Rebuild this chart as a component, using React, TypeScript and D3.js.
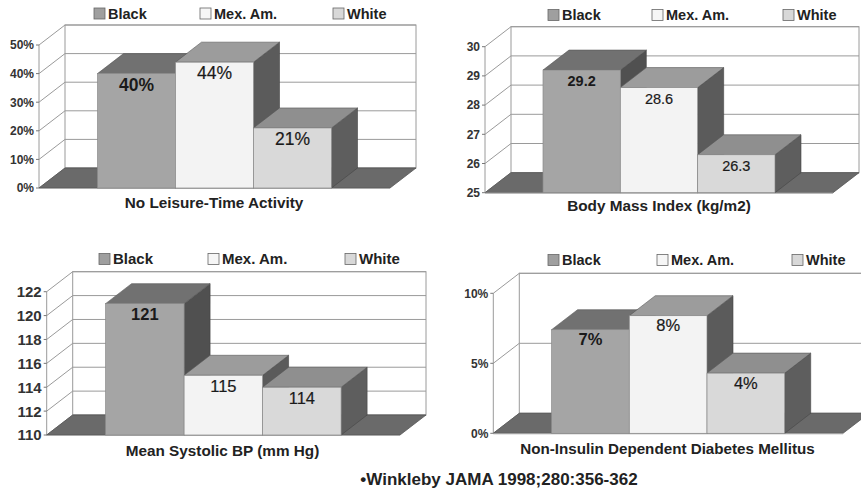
import React from "react";
import * as d3 from "d3";

const groups = ["Black", "Mex. Am.", "White"];

const leisureValues = [40, 44, 21];
const leisureLabels = ["40%", "44%", "21%"];
const leisureTicks = [0, 10, 20, 30, 40, 50];

const bmiValues = [29.2, 28.6, 26.3];
const bmiLabels = ["29.2", "28.6", "26.3"];
const bmiTicks = [25, 26, 27, 28, 29, 30];

const sbpValues = [121, 115, 114];
const sbpLabels = ["121", "115", "114"];
const sbpTicks = [110, 112, 114, 116, 118, 120, 122];

const niddmValues = [7.4, 8.4, 4.3];
const niddmLabels = ["7%", "8%", "4%"];
const niddmTicks = [0, 5, 10];

const titles = [
  "No Leisure-Time Activity",
  "Body Mass Index (kg/m2)",
  "Mean Systolic BP (mm Hg)",
  "Non-Insulin Dependent Diabetes Mellitus",
];
const footer = "\u2022Winkleby JAMA 1998;280:356-362";

const FONT = "'Liberation Sans', Arial, Helvetica, sans-serif";

const frontFill = ["#a5a5a5", "#f3f3f3", "#d9d9d9"];
const topFill = ["#717171", "#9c9c9c", "#8f8f8f"];
const sideFill = ["#505050", "#5b5b5b", "#5e5e5e"];
const legendFill = ["#9f9f9f", "#f6f6f6", "#d8d8d8"];

type Cfg = {
  values: number[];
  labels: string[];
  ticks: number[];
  fmt: (v: number) => string;
  title: string;
  xf0: number;
  xf1: number;
  yf0: number;
  yTop: number;
  tickFont: number;
  valFont: number;
  valOff: number;
  legendY: number;
  legendSq: number[];
  legendFont: number;
  titleY: number;
  titleX: number;
  titleFont: number;
};

const DX = 26;
const DY = 20;

const panels: Cfg[] = [
  {
    values: leisureValues, labels: leisureLabels, ticks: leisureTicks, fmt: (v) => `${v}%`,
    title: titles[0], xf0: 39, xf1: 390, yf0: 188, yTop: 45, tickFont: 12, valFont: 17.5, valOff: 17,
    legendY: 13.5, legendSq: [94, 200, 333], legendFont: 14.5, titleY: 208, titleX: 214, titleFont: 15.3,
  },
  {
    values: bmiValues, labels: bmiLabels, ticks: bmiTicks, fmt: (v) => `${v}`,
    title: titles[1], xf0: 485, xf1: 833, yf0: 192.7, yTop: 46.7, tickFont: 12, valFont: 14.5, valOff: 16,
    legendY: 15, legendSq: [548, 652, 783], legendFont: 14.5, titleY: 211, titleX: 659, titleFont: 15.3,
  },
  {
    values: sbpValues, labels: sbpLabels, ticks: sbpTicks, fmt: (v) => `${v}`,
    title: titles[2], xf0: 46.7, xf1: 400, yf0: 435, yTop: 291.7, tickFont: 15, valFont: 16.5, valOff: 16.5,
    legendY: 259, legendSq: [99, 208, 345], legendFont: 15, titleY: 456, titleX: 222.5, titleFont: 15.3,
  },
  {
    values: niddmValues, labels: niddmLabels, ticks: niddmTicks, fmt: (v) => `${v}%`,
    title: titles[3], xf0: 493.3, xf1: 843, yf0: 433.3, yTop: 293.3, tickFont: 12, valFont: 16.5, valOff: 15.5,
    legendY: 260, legendSq: [548, 657, 792], legendFont: 14.5, titleY: 454, titleX: 667.5, titleFont: 15.2,
  },
];

function Panel({ c }: { c: Cfg }) {
  const y = d3
    .scaleLinear()
    .domain([c.ticks[0], c.ticks[c.ticks.length - 1]])
    .range([c.yf0, c.yTop]);
  const w = c.xf1 - c.xf0;
  const x = d3
    .scaleBand()
    .domain(groups)
    .range([c.xf0 + w / 6, c.xf1 - w / 6])
    .padding(0);
  const bw = x.bandwidth();
  const xb0 = c.xf0 + DX;
  const xb1 = c.xf1 + DX;
  const yb0 = c.yf0 - DY;
  const ybTop = c.yTop - DY;
  const pts = (arr: number[][]) => arr.map((p) => p.join(",")).join(" ");
  const grid = "#9a9a9a";

  return (
    <g>
      <rect x={xb0} y={ybTop} width={xb1 - xb0} height={yb0 - ybTop} fill="#fff" stroke={grid} strokeWidth={1} />
      {c.ticks.map((t) => (
        <line key={"g" + t} x1={xb0} x2={xb1} y1={y(t) - DY} y2={y(t) - DY} stroke={grid} strokeWidth={1} />
      ))}
      <line x1={c.xf0} x2={c.xf0} y1={c.yf0} y2={c.yTop} stroke={grid} strokeWidth={1} />
      {c.ticks.map((t) => (
        <g key={"l" + t}>
          <line x1={c.xf0} y1={y(t)} x2={xb0} y2={y(t) - DY} stroke={grid} strokeWidth={1} />
          <line x1={c.xf0 - 3} y1={y(t)} x2={c.xf0} y2={y(t)} stroke="#777" strokeWidth={1} />
          <text
            x={c.xf0 - 5}
            y={y(t)}
            dy="0.36em"
            textAnchor="end"
            fontFamily={FONT}
            fontWeight="bold"
            fontSize={c.tickFont}
            fill="#333"
          >
            {c.fmt(t)}
          </text>
        </g>
      ))}
      <polygon
        points={pts([
          [c.xf0, c.yf0],
          [c.xf1, c.yf0],
          [xb1, yb0],
          [xb0, yb0],
        ])}
        fill="#6a6a6a"
        stroke="#555"
        strokeWidth={0.8}
      />
      <line x1={c.xf0} x2={c.xf1} y1={c.yf0 + 0.5} y2={c.yf0 + 0.5} stroke="#aaa" strokeWidth={1} />
      {groups.map((g, i) => {
        const xl = x(g) as number;
        const yt = y(c.values[i]);
        return (
          <g key={g}>
            <polygon
              points={pts([
                [xl + bw, yt],
                [xl + bw + DX, yt - DY],
                [xl + bw + DX, c.yf0 - DY],
                [xl + bw, c.yf0],
              ])}
              fill={sideFill[i]}
              stroke="#444"
              strokeWidth={0.6}
            />
            <polygon
              points={pts([
                [xl, yt],
                [xl + bw, yt],
                [xl + bw + DX, yt - DY],
                [xl + DX, yt - DY],
              ])}
              fill={topFill[i]}
              stroke="#555"
              strokeWidth={0.6}
            />
            <rect x={xl} y={yt} width={bw} height={c.yf0 - yt} fill={frontFill[i]} stroke="#8a8a8a" strokeWidth={0.7} />
            <text
              x={xl + bw / 2}
              y={yt + c.valOff}
              textAnchor="middle"
              fontFamily={FONT}
              fontWeight={i === 0 ? "bold" : "normal"}
              fontSize={c.valFont}
              fill="#1a1a1a"
              stroke={i === 0 ? "none" : "#1a1a1a"}
              strokeWidth={i === 0 ? 0 : 0.2}
            >
              {c.labels[i]}
            </text>
          </g>
        );
      })}
      {groups.map((g, i) => (
        <g key={"lg" + g}>
          <rect
            x={c.legendSq[i]}
            y={c.legendY - 5.5}
            width={11}
            height={11}
            fill={legendFill[i]}
            stroke="#666"
            strokeWidth={0.8}
          />
          <text
            x={c.legendSq[i] + 14}
            y={c.legendY}
            dy="0.36em"
            fontFamily={FONT}
            fontWeight="bold"
            fontSize={c.legendFont}
            fill="#222"
          >
            {g}
          </text>
        </g>
      ))}
      <text
        x={c.titleX}
        y={c.titleY}
        textAnchor="middle"
        fontFamily={FONT}
        fontWeight="bold"
        fontSize={c.titleFont}
        fill="#222"
      >
        {c.title}
      </text>
    </g>
  );
}

export default function App() {
  return (
    <div style={{ position: "absolute", left: 0, top: 0 }}>
      <svg width={861} height={493} style={{ display: "block", background: "#fff" }}>
        <rect x={0} y={0} width={861} height={493} fill="#fff" />
        {panels.map((c, i) => (
          <Panel key={i} c={c} />
        ))}
        <text x={499} y={485} textAnchor="middle" fontFamily={FONT} fontWeight="bold" fontSize={17} fill="#222">
          {footer}
        </text>
      </svg>
    </div>
  );
}
